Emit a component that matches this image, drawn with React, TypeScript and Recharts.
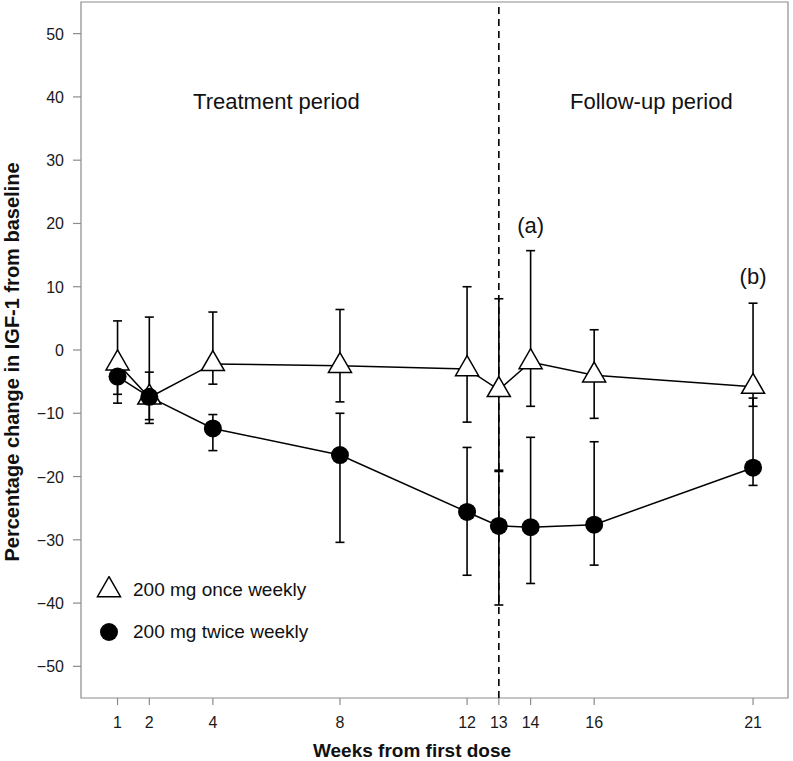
import React from 'react';
import {
  ComposedChart,
  Line,
  XAxis,
  YAxis,
  ErrorBar,
  ReferenceLine,
  ReferenceArea,
  ReferenceDot,
  Label,
} from 'recharts';

const FONT = '"Liberation Sans", Arial, Helvetica, sans-serif';

const weeks = [1, 2, 4, 8, 12, 13, 14, 16, 21];

// 200 mg once weekly (open triangles)
const onceMean = [-2.1, -7.5, -2.2, -2.5, -3.0, -6.3, -1.9, -4.0, -5.8];
const onceLow = [-8.4, -11.0, -5.4, -8.2, -11.4, -19.0, -8.9, -10.8, -8.9];
const onceHigh = [4.6, 5.2, 6.0, 6.4, 10.0, 8.1, 15.7, 3.2, 7.4];

// 200 mg twice weekly (filled circles)
const twiceMean = [-4.2, -7.4, -12.4, -16.6, -25.6, -27.8, -28.0, -27.6, -18.6];
const twiceLow = [-7.0, -11.6, -15.9, -30.4, -35.6, -40.3, -36.9, -34.0, -21.4];
const twiceHigh = [-1.4, -3.5, -10.2, -10.0, -15.4, -19.2, -13.8, -14.5, -7.6];

const xTicks = [1, 2, 4, 8, 12, 13, 14, 16, 21];
const yTicks = [-50, -40, -30, -20, -10, 0, 10, 20, 30, 40, 50];
const xDomain: [number, number] = [-0.15, 22.1];
const yDomain: [number, number] = [-55, 55];
const followUpStart = 13;

const annotations = [
  { x: 6, y: 39.4, text: 'Treatment period' },
  { x: 17.8, y: 39.4, text: 'Follow-up period' },
  { x: 14, y: 19.8, text: '(a)' },
  { x: 21, y: 11.6, text: '(b)' },
];

const data = weeks.map((w, i) => ({
  week: w,
  once: onceMean[i],
  onceErr: [onceMean[i] - onceLow[i], onceHigh[i] - onceMean[i]],
  twice: twiceMean[i],
  twiceErr: [twiceMean[i] - twiceLow[i], twiceHigh[i] - twiceMean[i]],
}));

const TRI_R = 13.3;

const trianglePath = (cx: number, cy: number) => {
  const xc = (TRI_R * Math.sqrt(3)) / 2;
  return `M${cx},${cy - TRI_R} L${cx + xc},${cy + TRI_R / 2} L${cx - xc},${cy + TRI_R / 2} Z`;
};

const TriangleDot = (props: any) => {
  const { cx, cy, index } = props;
  if (cx == null || cy == null) return <g key={`t-${index}`} />;
  return (
    <path key={`t-${index}`} d={trianglePath(cx, cy)} fill="#fff" stroke="#000" strokeWidth={1.5} />
  );
};

const minusFmt = (v: number) => String(v).replace('-', '\u2212');

// custom tick text so the font size is applied for sure
const XTick = (props: any) => {
  const { x, y, payload } = props;
  return (
    <text x={x} y={y + 13} textAnchor="middle" fontFamily={FONT} fontSize={16} fill="#1a1a1a">
      {payload.value}
    </text>
  );
};

const YTick = (props: any) => {
  const { x, y, payload } = props;
  return (
    <text x={x} y={y} dy={6} textAnchor="end" fontFamily={FONT} fontSize={16} fill="#1a1a1a">
      {minusFmt(payload.value)}
    </text>
  );
};

const App: React.FC = () => {
  return (
    <div style={{ position: 'absolute', left: 0, top: 0, width: 793, height: 761, background: '#fff' }}>
      <ComposedChart
        width={793}
        height={761}
        data={data}
        margin={{ top: 2, right: 5, bottom: 0, left: 0 }}
        style={{ fontFamily: FONT }}
      >
        <ReferenceArea
          x1={xDomain[0]}
          x2={xDomain[1]}
          y1={yDomain[0]}
          y2={yDomain[1]}
          fill="none"
          fillOpacity={0}
          stroke="#8c8c8c"
          strokeWidth={1.2}
          ifOverflow="visible"
        />
        <XAxis
          type="number"
          dataKey="week"
          domain={xDomain}
          ticks={xTicks}
          interval={0}
          allowDataOverflow
          height={63}
          axisLine={false}
          tickLine={{ stroke: '#8c8c8c', strokeWidth: 1.2 }}
          tickSize={7}
          tickMargin={10}
          tick={<XTick />}
        >
          <Label
            content={(p: any) => {
              const vb = p.viewBox || { x: 81, y: 698, width: 707, height: 63 };
              return (
                <text
                  x={vb.x + 331}
                  y={vb.y + 52}
                  textAnchor="middle"
                  dominantBaseline="central"
                  fontFamily={FONT}
                  fontSize={19}
                  fontWeight="bold"
                  fill="#111"
                >
                  Weeks from first dose
                </text>
              );
            }}
          />
        </XAxis>
        <YAxis
          type="number"
          domain={yDomain}
          ticks={yTicks}
          interval={0}
          allowDataOverflow
          width={81}
          axisLine={false}
          tickLine={{ stroke: '#8c8c8c', strokeWidth: 1.2 }}
          tickSize={8}
          tickMargin={9}
          tick={<YTick />}
        >
          <Label
            content={(p: any) => {
              const vb = p.viewBox || { x: 0, y: 2, width: 81, height: 696 };
              const x = vb.x + 12;
              const y = vb.y + vb.height / 2 + 12;
              return (
                <text
                  x={x}
                  y={y}
                  transform={`rotate(-90, ${x}, ${y})`}
                  textAnchor="middle"
                  dominantBaseline="central"
                  fontFamily={FONT}
                  fontSize={20}
                  fontWeight="bold"
                  fill="#111"
                >
                  Percentage change in IGF-1 from baseline
                </text>
              );
            }}
          />
        </YAxis>

        <ReferenceLine
          x={followUpStart}
          stroke="#000"
          strokeWidth={1.6}
          strokeDasharray="7 5"
          ifOverflow="visible"
        />

        {annotations.map((a) => (
          <ReferenceDot key={a.text} x={a.x} y={a.y} r={0} fill="none" stroke="none" ifOverflow="visible">
            <Label value={a.text} position="center" fontSize={22} fill="#111" fontFamily={FONT} />
          </ReferenceDot>
        ))}

        <Line
          dataKey="once"
          stroke="#000"
          strokeWidth={1.5}
          dot={TriangleDot}
          activeDot={false}
          isAnimationActive={false}
        >
          <ErrorBar dataKey="onceErr" direction="y" width={4.5} stroke="#000" strokeWidth={1.6} isAnimationActive={false} />
        </Line>
        <Line
          dataKey="twice"
          stroke="#000"
          strokeWidth={1.5}
          dot={{ r: 9, fill: '#000', stroke: '#000', strokeWidth: 0 }}
          activeDot={false}
          isAnimationActive={false}
        >
          <ErrorBar dataKey="twiceErr" direction="y" width={4.5} stroke="#000" strokeWidth={1.6} isAnimationActive={false} />
        </Line>
      </ComposedChart>

      <div
        style={{
          position: 'absolute',
          left: 96,
          top: 569,
          fontFamily: FONT,
          fontSize: 19,
          color: '#111',
        }}
      >
        <div style={{ display: 'flex', alignItems: 'center', height: 42 }}>
          <svg width={26} height={28}>
            <path d={trianglePath(13, 14)} fill="#fff" stroke="#000" strokeWidth={1.5} />
          </svg>
          <span style={{ marginLeft: 11, whiteSpace: 'nowrap' }}>200 mg once weekly</span>
        </div>
        <div style={{ display: 'flex', alignItems: 'center', height: 42 }}>
          <svg width={26} height={28}>
            <circle cx={13} cy={14} r={9} fill="#000" />
          </svg>
          <span style={{ marginLeft: 11, whiteSpace: 'nowrap' }}>200 mg twice weekly</span>
        </div>
      </div>
    </div>
  );
};

export default App;
